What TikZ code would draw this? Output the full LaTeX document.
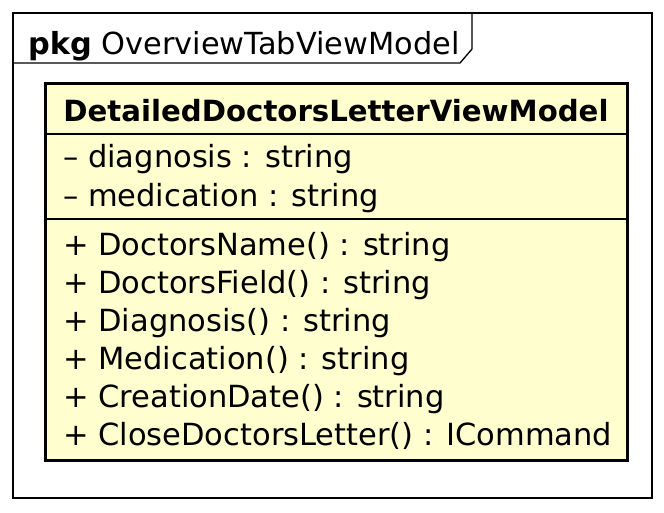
\documentclass[tikz,border=0pt]{standalone}
\usepackage{fontspec}
\setmainfont{DejaVu Sans}
\definecolor{classfill}{HTML}{FEFECE}
\tikzset{
  member/.style={anchor=base west, inner sep=0pt, font=\fontsize{30.5}{36}\selectfont},
  classtitle/.style={anchor=base, inner sep=0pt, font=\fontsize{29.2}{34}\selectfont\bfseries},
}
\begin{document}
\begin{tikzpicture}[x=1pt,y=-1pt]
  \useasboundingbox (0,0) rectangle (664,513);
  % package frame
  \draw[line width=1.3pt] (13,13) rectangle (652,498);
  \draw[line width=1.3pt] (13,63) -- (460,63) -- (472,49) -- (472,13);
  \node[anchor=base west, inner sep=0pt, font=\fontsize{30.4}{36}\selectfont] (pkg) at (28,55) {\textbf{pkg} OverviewTabViewModel};

  % class box
  \draw[line width=3pt, fill=classfill] (45,84) rectangle (627,460);
  \draw[line width=1.1pt] (45,134) -- (627,134);
  \draw[line width=1.1pt] (45,219) -- (627,219);
  \node[classtitle] (title) at (336,122) {DetailedDoctorsLetterViewModel};

  % attributes
  \node[member] (diag) at (63,168) {– diagnosis : string};
  \node[member] (medi) at (63,207) {– medication : string};

  % methods
  \node[member] (m1) at (63,255) {+ DoctorsName() : string};
  \node[member] (m2) at (63,293) {+ DoctorsField() : string};
  \node[member] (m3) at (63,331) {+ Diagnosis() : string};
  \node[member] (m4) at (63,369) {+ Medication() : string};
  \node[member] (m5) at (63,407) {+ CreationDate() : string};
  \node[member] (m6) at (63,445) {+ CloseDoctorsLetter() : ICommand};
\end{tikzpicture}
\end{document}
